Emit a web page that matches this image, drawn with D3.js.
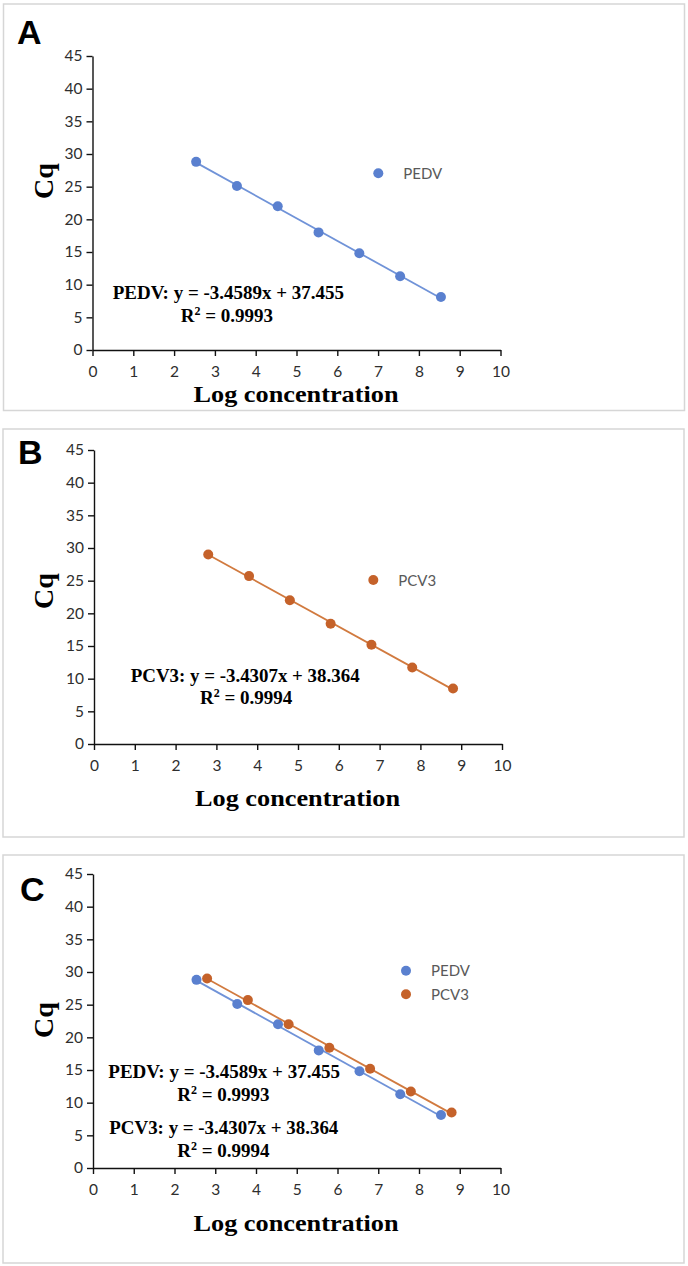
<!DOCTYPE html>
<html>
<head>
<meta charset="utf-8">
<script src="https://cdn.jsdelivr.net/npm/d3@7"></script>
<style>
  html, body { margin: 0; padding: 0; background: #fff; }
  svg { display: block; }
</style>
</head>
<body>
<svg id="chart" width="688" height="1266"></svg>
<script>
// ---------------- data ----------------
const xTicks = [0, 1, 2, 3, 4, 5, 6, 7, 8, 9, 10];
const yTicks = [0, 5, 10, 15, 20, 25, 30, 35, 40, 45];
const seriesNames = ["PEDV", "PCV3"];
const pedvX = [2.54, 3.54, 4.54, 5.54, 6.54, 7.54, 8.54];
const pedvY = [28.8, 25.1, 22.0, 18.0, 14.8, 11.3, 8.1];
const pcv3X = [2.80, 3.80, 4.80, 5.80, 6.80, 7.80, 8.80];
const pcv3Y = [29.0, 25.7, 22.0, 18.4, 15.2, 11.7, 8.5];
const equationLabels = ["PEDV: y = -3.4589x + 37.455", "PCV3: y = -3.4307x + 38.364"];
const r2Labels = ["0.9993", "0.9994"];
const panelLetters = ["A", "B", "C"];
const xTitle = "Log concentration";
const yTitle = "Cq";

// ---------------- styles ----------------
const colors = {
  PEDV: { dot: "#5A80CF", line: "#7093D8" },
  PCV3: { dot: "#C5622A", line: "#D17A3F" }
};
const series = {
  PEDV: pedvX.map((x, i) => ({ x, y: pedvY[i] })),
  PCV3: pcv3X.map((x, i) => ({ x, y: pcv3Y[i] }))
};

// panel layouts (pixel positions)
const layouts = [
  { letter: 0, box: [3.5, 4, 681, 406.5], x0: 92.5, x1: 500.5, y0: 350, y45: 56,
    letterPos: [17, 44], cqY: 181, xTitleY: 401.5, xTitleX: 296, xTitleSize: 23,
    show: ["PEDV"],
    legend: [{ s: "PEDV", mx: 378.3, my: 173.3 }],
    eqs: [{ s: 0, x1: 112.7, x2: 344, base: 299.3, rx1: 180.7, rbase: 322.3 }] },
  { letter: 1, box: [3, 429, 681, 408], x0: 94, x1: 502, y0: 744, y45: 450,
    letterPos: [18, 464], cqY: 591, xTitleY: 805.7, xTitleX: 297.5, xTitleSize: 24,
    show: ["PCV3"],
    legend: [{ s: "PCV3", mx: 373.3, my: 580 }],
    eqs: [{ s: 1, x1: 130.7, x2: 359.6, base: 681.7, rx1: 200, rbase: 704.3 }] },
  { letter: 2, box: [3, 855, 681, 408], x0: 93, x1: 500.5, y0: 1168, y45: 874,
    letterPos: [20, 901], cqY: 1020, xTitleY: 1231, xTitleX: 296, xTitleSize: 24,
    show: ["PEDV", "PCV3"],
    legend: [{ s: "PEDV", mx: 406, my: 970.7 }, { s: "PCV3", mx: 406, my: 994.3 }],
    eqs: [{ s: 0, x1: 108.3, x2: 340, base: 1078, rx1: 177.3, rbase: 1100.7 },
          { s: 1, x1: 109.3, x2: 338.3, base: 1134, rx1: 177.3, rbase: 1156.7 }] }
];

const svg = d3.select("#chart");
svg.append("rect").attr("width", 688).attr("height", 1266).attr("fill", "#fff");

function fit(pts) {
  const mx = d3.mean(pts, d => d.x), my = d3.mean(pts, d => d.y);
  const sxy = d3.sum(pts, d => (d.x - mx) * (d.y - my));
  const sxx = d3.sum(pts, d => (d.x - mx) * (d.x - mx));
  const b = sxy / sxx;
  return { b, a: my - b * mx };
}

const tickFont = "Lato, 'Open Sans', sans-serif";
const serif = "'Liberation Serif', 'Times New Roman', serif";

layouts.forEach(L => {
  const g = svg.append("g");
  const [bx, by, bw, bh] = L.box;
  g.append("rect").attr("x", bx).attr("y", by).attr("width", bw).attr("height", bh)
    .attr("fill", "#fff").attr("stroke", "#d6d6d6").attr("stroke-width", 1.5);

  const x = d3.scaleLinear().domain([0, 10]).range([L.x0, L.x1]);
  const y = d3.scaleLinear().domain([0, 45]).range([L.y0, L.y45]);

  const xa = g.append("g").attr("transform", `translate(0,${L.y0})`)
    .call(d3.axisBottom(x).tickValues(xTicks).tickSize(6).tickSizeOuter(0).tickPadding(10).tickFormat(d3.format("d")));
  const ya = g.append("g").attr("transform", `translate(${L.x0},0)`)
    .call(d3.axisLeft(y).tickValues(yTicks).tickSize(6).tickSizeOuter(0).tickPadding(4).tickFormat(d3.format("d")));
  [xa, ya].forEach(a => {
    a.select(".domain").attr("stroke", "#111").attr("stroke-width", 1.4);
    a.selectAll(".tick line").attr("stroke", "#111").attr("stroke-width", 1.4);
    a.selectAll(".tick text").attr("fill", "#2e2e2e").style("font-family", tickFont).style("font-size", "15.5px");
  });

  // panel letter
  g.append("text").attr("x", L.letterPos[0]).attr("y", L.letterPos[1])
    .text(panelLetters[L.letter])
    .style("font-family", "'Liberation Sans', Arial, sans-serif").style("font-weight", "bold")
    .style("font-size", "34px").attr("fill", "#000");

  // axis titles
  g.append("text").attr("transform", `translate(53,${L.cqY}) rotate(-90)`)
    .attr("text-anchor", "middle").text(yTitle)
    .style("font-family", serif).style("font-weight", "bold").style("font-size", "28px").attr("fill", "#000");
  g.append("text").attr("x", L.xTitleX).attr("y", L.xTitleY).attr("text-anchor", "middle")
    .attr("textLength", 205).attr("lengthAdjust", "spacingAndGlyphs")
    .text(xTitle)
    .style("font-family", serif).style("font-weight", "bold").style("font-size", L.xTitleSize + "px").attr("fill", "#000");

  // series
  L.show.forEach(name => {
    const pts = series[name];
    const f = fit(pts);
    const xs = d3.extent(pts, d => d.x);
    g.append("line")
      .attr("x1", x(xs[0])).attr("y1", y(f.a + f.b * xs[0]))
      .attr("x2", x(xs[1])).attr("y2", y(f.a + f.b * xs[1]))
      .attr("stroke", colors[name].line).attr("stroke-width", 1.8);
    g.selectAll(null).data(pts).enter().append("circle")
      .attr("cx", d => x(d.x)).attr("cy", d => y(d.y)).attr("r", 5)
      .attr("fill", colors[name].dot);
  });

  // legend
  L.legend.forEach(it => {
    g.append("circle").attr("cx", it.mx).attr("cy", it.my).attr("r", 5).attr("fill", colors[it.s].dot);
    g.append("text").attr("x", it.mx + 25).attr("y", it.my + 5.5).text(it.s)
      .style("font-family", tickFont).style("font-size", "15px").attr("fill", "#595959");
  });

  // equations
  L.eqs.forEach(e => {
    g.append("text").attr("x", e.x1).attr("y", e.base)
      .attr("textLength", e.x2 - e.x1).attr("lengthAdjust", "spacingAndGlyphs")
      .text(equationLabels[e.s])
      .style("font-family", serif).style("font-weight", "bold").style("font-size", "19px").attr("fill", "#000");
    const t = g.append("text").attr("x", e.rx1).attr("y", e.rbase)
      .style("font-family", serif).style("font-weight", "bold").style("font-size", "19px").attr("fill", "#000");
    t.append("tspan").text("R");
    t.append("tspan").attr("dy", -7).style("font-size", "12px").text("2");
    t.append("tspan").attr("dy", 7).text(" = " + r2Labels[e.s]);
  });
});
</script>
</body>
</html>
